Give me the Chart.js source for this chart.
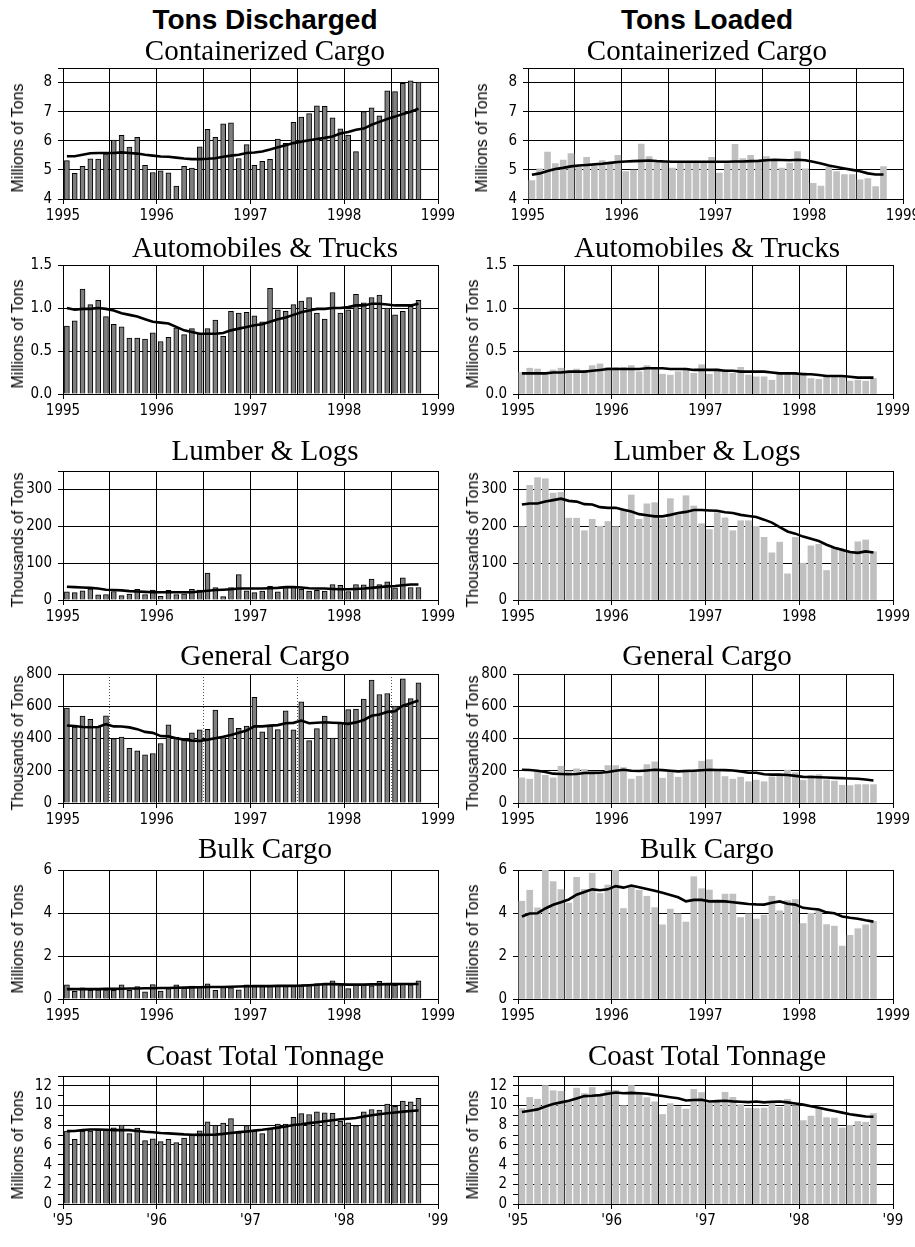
<!DOCTYPE html>
<html><head><meta charset="utf-8">
<script src="https://cdn.jsdelivr.net/npm/chart.js@4.4.0/dist/chart.umd.min.js"></script>
<style>
html,body{margin:0;padding:0;background:#fff;overflow:hidden;width:915px;height:1247px;}
#page{position:relative;width:915px;height:1247px;overflow:hidden;background:#fff;}
canvas{position:absolute;}
.t{position:absolute;transform:translate(-50%,-50%);white-space:nowrap;line-height:1;color:#000;}
.main{font:bold 28px "Liberation Sans",Arial,sans-serif;}
.sub{font:29px "Liberation Serif","Times New Roman",serif;}
.yl{position:absolute;transform:translate(-50%,-50%) rotate(-90deg);white-space:nowrap;line-height:1;color:#000;font:16px "Liberation Sans",Arial,sans-serif;}
</style></head><body><div id="page"></div>
<script>
// ---- categories: months Jan 1995 .. Oct 1998 ----
const months = ['1995-01','1995-02','1995-03','1995-04','1995-05','1995-06','1995-07','1995-08','1995-09','1995-10','1995-11','1995-12',
'1996-01','1996-02','1996-03','1996-04','1996-05','1996-06','1996-07','1996-08','1996-09','1996-10','1996-11','1996-12',
'1997-01','1997-02','1997-03','1997-04','1997-05','1997-06','1997-07','1997-08','1997-09','1997-10','1997-11','1997-12',
'1998-01','1998-02','1998-03','1998-04','1998-05','1998-06','1998-07','1998-08','1998-09','1998-10'];
const yearTicks = ['1995','1996','1997','1998','1999'];
const shortYearTicks = ["'95","'96","'97","'98","'99"];

// ---- series ----
const dischContainer = [5.32,4.88,5.12,5.38,5.37,5.55,6.02,6.19,5.78,6.12,5.16,4.91,4.97,4.90,4.44,5.12,5.06,5.79,6.39,6.12,6.58,6.62,5.39,5.87,5.16,5.29,5.36,6.06,5.91,6.63,6.81,6.93,7.20,7.18,6.79,6.41,6.20,5.63,7.00,7.13,6.86,7.72,7.69,7.97,8.06,8.02];
const dischContainerAvg = [5.47,5.47,5.52,5.57,5.58,5.58,5.58,5.60,5.58,5.56,5.52,5.49,5.46,5.45,5.42,5.39,5.37,5.37,5.38,5.40,5.45,5.49,5.52,5.58,5.60,5.63,5.70,5.78,5.85,5.92,5.97,6.02,6.06,6.10,6.15,6.25,6.30,6.38,6.42,6.55,6.65,6.75,6.83,6.92,7.00,7.10];
const loadContainer = [4.63,5.04,5.61,5.22,5.34,5.56,5.10,5.43,5.12,5.32,5.22,5.50,4.94,4.99,5.89,5.46,5.23,5.23,5.06,5.26,5.26,5.23,5.24,5.43,4.89,5.22,5.88,5.39,5.50,5.28,5.46,5.30,5.06,5.23,5.63,5.04,4.54,4.44,5.10,4.94,4.84,4.84,4.66,4.70,4.43,5.11];
const loadContainerAvg = [4.83,4.88,4.96,5.03,5.07,5.12,5.15,5.17,5.19,5.21,5.24,5.27,5.29,5.30,5.31,5.32,5.30,5.29,5.28,5.28,5.28,5.28,5.28,5.28,5.28,5.28,5.29,5.29,5.30,5.31,5.33,5.35,5.34,5.33,5.35,5.33,5.28,5.22,5.15,5.10,5.05,5.00,4.95,4.88,4.84,4.84];

const dischAuto = [0.79,0.85,1.22,1.04,1.09,0.90,0.81,0.78,0.65,0.65,0.64,0.71,0.61,0.66,0.77,0.69,0.76,0.70,0.76,0.86,0.67,0.96,0.94,0.95,0.91,0.84,1.23,0.98,0.96,1.04,1.08,1.12,0.94,0.87,1.18,0.94,0.98,1.16,1.06,1.12,1.15,1.00,0.92,0.96,1.02,1.09];
const dischAutoAvg = [1.00,0.98,0.99,0.99,1.00,0.99,0.97,0.94,0.92,0.90,0.87,0.84,0.83,0.82,0.78,0.74,0.72,0.70,0.70,0.70,0.71,0.74,0.76,0.78,0.80,0.81,0.84,0.87,0.89,0.92,0.95,0.97,0.99,0.99,1.00,1.00,1.01,1.03,1.03,1.05,1.05,1.04,1.03,1.03,1.03,1.05];
const loadAuto = [0.25,0.30,0.29,0.25,0.28,0.30,0.25,0.29,0.27,0.33,0.35,0.31,0.31,0.31,0.33,0.26,0.33,0.31,0.23,0.22,0.26,0.30,0.24,0.34,0.23,0.29,0.28,0.24,0.31,0.22,0.20,0.20,0.16,0.23,0.24,0.23,0.25,0.18,0.17,0.20,0.20,0.21,0.15,0.16,0.15,0.18];
const loadAutoAvg = [0.24,0.24,0.24,0.24,0.25,0.25,0.26,0.26,0.26,0.27,0.28,0.29,0.29,0.29,0.29,0.29,0.30,0.30,0.30,0.29,0.29,0.29,0.28,0.28,0.28,0.28,0.27,0.27,0.26,0.26,0.26,0.26,0.25,0.24,0.24,0.24,0.23,0.23,0.22,0.21,0.21,0.21,0.20,0.19,0.19,0.19];

const dischLumber = [22,20,25,30,14,15,23,12,16,29,15,27,10,26,15,17,29,27,73,34,9,34,69,25,20,24,37,22,35,37,29,24,26,24,42,40,23,42,41,57,42,49,33,60,34,34];
const dischLumberAvg = [36,35,34,33,31,28,27,26,24,23,22,21,21,21,21,21,21,23,25,27,28,29,31,31,31,31,32,33,35,35,34,32,31,31,30,29,29,30,31,33,35,37,38,40,42,42];
const loadLumber = [199,311,332,329,290,292,222,222,188,219,200,213,199,245,285,219,261,264,220,275,232,283,255,207,191,237,223,188,215,215,200,170,128,157,71,170,100,147,151,80,141,133,128,158,163,131];
const loadLumberAvg = [259,262,262,267,271,275,269,267,260,259,252,250,250,245,240,233,230,227,227,231,236,239,244,244,243,242,238,236,231,228,225,218,210,198,186,180,172,166,160,150,142,136,130,128,132,129];

const dischGeneral = [589,471,539,519,475,541,399,409,339,323,299,307,369,485,407,391,435,453,457,577,405,525,463,477,655,441,479,455,571,453,627,387,461,539,403,499,579,583,645,762,673,679,601,770,647,745];
const dischGeneralAvg = [481,478,471,470,471,489,475,474,469,458,441,435,415,413,401,393,387,385,393,402,411,422,435,450,475,475,480,483,495,497,511,495,498,501,498,496,491,500,515,541,549,565,569,603,619,635];
const loadGeneral = [156,148,194,172,156,228,198,212,208,188,192,232,232,220,148,166,238,255,154,196,160,206,196,259,269,200,164,148,160,132,142,132,162,168,204,188,140,172,176,144,136,110,108,114,114,114];
const loadGeneralAvg = [206,205,200,192,182,180,178,180,186,187,188,192,200,206,200,198,202,206,204,200,196,198,200,203,206,205,204,202,196,188,188,178,176,176,174,168,162,161,160,158,156,154,152,150,146,140];

const dischBulk = [0.66,0.36,0.52,0.40,0.43,0.43,0.40,0.66,0.40,0.58,0.33,0.67,0.37,0.48,0.66,0.51,0.60,0.55,0.70,0.40,0.55,0.52,0.43,0.66,0.64,0.61,0.61,0.60,0.60,0.61,0.66,0.63,0.72,0.69,0.84,0.63,0.48,0.67,0.66,0.61,0.82,0.67,0.64,0.73,0.66,0.84];
const dischBulkAvg = [0.46,0.46,0.46,0.46,0.46,0.47,0.47,0.48,0.49,0.49,0.50,0.50,0.51,0.51,0.52,0.53,0.54,0.55,0.56,0.56,0.56,0.57,0.58,0.59,0.60,0.60,0.60,0.61,0.61,0.61,0.62,0.64,0.66,0.69,0.69,0.68,0.67,0.67,0.67,0.68,0.68,0.69,0.69,0.70,0.70,0.70];
const loadBulk = [4.55,5.06,4.24,6.00,5.46,5.09,4.46,5.66,5.10,5.85,4.91,5.30,6.00,4.21,5.21,5.06,4.78,4.25,3.45,4.18,3.96,3.58,5.69,5.13,5.07,4.58,4.88,4.88,3.79,3.96,3.72,3.90,4.78,4.10,4.58,4.63,3.51,3.99,4.10,3.46,3.39,2.46,2.96,3.27,3.45,3.61];
const loadBulkAvg = [3.84,3.98,3.99,4.21,4.38,4.50,4.63,4.85,4.98,5.10,5.06,5.10,5.25,5.18,5.28,5.20,5.12,5.03,4.94,4.84,4.73,4.54,4.61,4.61,4.54,4.55,4.54,4.50,4.46,4.42,4.40,4.39,4.48,4.54,4.43,4.39,4.24,4.20,4.16,4.03,3.99,3.84,3.78,3.73,3.66,3.60];

const dischCoast = [7.40,6.57,7.40,7.40,7.50,7.50,7.73,8.02,7.15,7.70,6.44,6.63,6.34,6.57,6.24,6.70,7.02,7.44,8.34,7.99,8.21,8.67,7.24,7.96,7.50,7.15,7.70,8.12,8.12,8.80,9.18,9.09,9.35,9.25,9.22,8.40,8.25,7.96,9.35,9.60,9.54,10.15,9.93,10.45,10.38,10.74];
const dischCoastAvg = [7.40,7.42,7.50,7.57,7.56,7.54,7.50,7.52,7.50,7.42,7.34,7.28,7.21,7.17,7.12,7.07,7.04,7.02,7.03,7.05,7.12,7.21,7.30,7.37,7.45,7.54,7.65,7.76,7.88,8.02,8.10,8.21,8.30,8.41,8.50,8.60,8.66,8.73,8.88,9.02,9.12,9.22,9.30,9.38,9.45,9.51];
const loadCoast = [9.70,10.83,10.64,12.03,11.51,11.45,10.41,11.77,11.22,11.84,11.06,11.55,11.55,9.99,12.03,11.32,10.80,10.38,9.09,10.19,9.90,9.64,11.64,11.32,10.22,10.48,11.35,10.83,10.09,9.74,9.70,9.74,10.35,9.83,10.64,9.99,8.47,8.93,9.74,8.77,8.73,7.73,7.99,8.38,8.31,9.18];
const loadCoastAvg = [9.35,9.48,9.61,9.90,10.15,10.32,10.48,10.72,10.96,11.00,11.06,11.20,11.32,11.25,11.29,11.25,11.19,11.08,10.96,10.85,10.74,10.51,10.56,10.58,10.41,10.45,10.48,10.42,10.38,10.35,10.41,10.32,10.38,10.41,10.32,10.20,10.09,9.93,9.77,9.60,9.44,9.28,9.12,9.00,8.89,8.86];

// ---- layout (positions / styles) ----
const page = document.getElementById('page');
const TICK_FONT = {family:"'Liberation Sans Narrow','DejaVu Sans Condensed','Arial Narrow',sans-serif", size:15};
Chart.defaults.color = '#000';

const rows = [
  {title:'Containerized Cargo', unit:'Millions of Tons', top:63, bottom:199, min:4, max:8.5, step:1, labelStep:1, dec:0, ty:50,
   L:dischContainer, La:dischContainerAvg, R:loadContainer, Ra:loadContainerAvg, rShift:10, xl:yearTicks},
  {title:'Automobiles & Trucks', unit:'Millions of Tons', top:260, bottom:394, min:0, max:1.5, step:0.5, labelStep:0.5, dec:1, ty:247,
   L:dischAuto, La:dischAutoAvg, R:loadAuto, Ra:loadAutoAvg, rShift:0, xl:yearTicks},
  {title:'Lumber & Logs', unit:'Thousands of Tons', top:466, bottom:600, min:0, max:350, step:100, labelStep:100, dec:0, ty:450,
   L:dischLumber, La:dischLumberAvg, R:loadLumber, Ra:loadLumberAvg, rShift:0, xl:yearTicks},
  {title:'General Cargo', unit:'Thousands of Tons', top:669, bottom:803, min:0, max:800, step:200, labelStep:200, dec:0, ty:655,
   L:dischGeneral, La:dischGeneralAvg, R:loadGeneral, Ra:loadGeneralAvg, rShift:0, xl:yearTicks, dottedLeft:true},
  {title:'Bulk Cargo', unit:'Millions of Tons', top:865, bottom:999, min:0, max:6, step:2, labelStep:2, dec:0, ty:848,
   L:dischBulk, La:dischBulkAvg, R:loadBulk, Ra:loadBulkAvg, rShift:0, xl:yearTicks},
  {title:'Coast Total Tonnage', unit:'Millions of Tons', top:1071, bottom:1204, min:0, max:13, step:1, labelStep:2, dec:0, ty:1055,
   L:dischCoast, La:dischCoastAvg, R:loadCoast, Ra:loadCoastAvg, rShift:0, xl:shortYearTicks}
];

function addText(cls, text, x, y){
  const d = document.createElement('div');
  d.className = cls; d.textContent = text;
  d.style.left = x+'px'; d.style.top = y+'px';
  page.appendChild(d);
}

addText('t main','Tons Discharged',265,20);
addText('t main','Tons Loaded',707,20);

function isLabeled(v, r){ const q = v / r.labelStep; return Math.abs(q - Math.round(q)) < 1e-6; }

function panel(r, bars, avg, loaded, plotLeft){
  const plotRight = plotLeft + 375;
  const cx = plotLeft - 55, cy = r.top - 10;
  const cw = plotRight + 24 - cx, ch = r.bottom + 34 - cy;
  const c = document.createElement('canvas');
  c.width = cw; c.height = ch;
  c.style.left = cx+'px'; c.style.top = cy+'px';
  c.style.width = cw+'px'; c.style.height = ch+'px';
  page.appendChild(c);
  const barPts = bars.map((v,i)=>({x: months.indexOf(months[i]) + 0.5, y: v}));
  const avgPts = avg.map((v,i)=>({x: i + 0.5, y: v}));
  const dotted = !loaded && r.dottedLeft;
  new Chart(c, {
    type:'bar',
    data:{datasets:[
      {type:'line', data:avgPts, borderColor:'#000', borderWidth:2.6, pointRadius:0, tension:0, order:0, fill:false},
      {type:'bar', data:barPts, backgroundColor: loaded ? '#c0c0c0' : '#7f7f7f',
       borderColor: loaded ? 'rgba(0,0,0,0)' : '#000', borderWidth: loaded ? 0 : 1,
       barThickness: loaded ? 6 : 5, order:1}
    ]},
    options:{
      responsive:false, animation:false, devicePixelRatio:1,
      layout:{padding:{left:10, top:10, right:24, bottom:4}},
      plugins:{legend:{display:false}, tooltip:{enabled:false}, title:{display:false}},
      scales:{
        x:{type:'linear', min:0, max:48, offset:false,
          grid:{offset:false, lineWidth:1, tickLength:5,
            color: ctx => (dotted && ctx.tick && ctx.tick.value % 12 === 6) ? '#555' : '#000',
            tickColor: ctx => (ctx.tick && ctx.tick.value % 12 === 0) ? '#000' : 'rgba(0,0,0,0)'},
          border:{display:true, color:'#000', width:1,
            dash: ctx => (dotted && ctx.tick && ctx.tick.value % 12 === 6) ? [1,2] : []},
          ticks:{stepSize:6, autoSkip:false, maxRotation:0, minRotation:0, padding:3, font:TICK_FONT, color:'#000',
            callback: v => (v % 12 === 0) ? r.xl[v/12] : ''},
          afterFit: s => { s.height = 30; }
        },
        y:{type:'linear', min:r.min, max:r.max,
          afterBuildTicks: s => {
            const t = [];
            for (let k = 0; r.min + k*r.step <= r.max + 1e-9; k++) t.push({value: +(r.min + k*r.step).toFixed(6)});
            if (Math.abs(t[t.length-1].value - r.max) > 1e-9) t.push({value: r.max});
            s.ticks = t;
          },
          grid:{lineWidth:1, tickLength:5,
            color: ctx => (ctx.tick && (isLabeled(ctx.tick.value, r) || ctx.tick.value === r.max)) ? '#000' : 'rgba(0,0,0,0)',
            tickColor:'#000'},
          border:{display:true, color:'#000', width:1},
          ticks:{autoSkip:false, padding:6, font:TICK_FONT, color:'#000',
            callback: v => isLabeled(v, r) ? Number(v).toFixed(r.dec) : ''},
          afterFit: s => { s.width = 45; }
        }
      }
    }
  });
}

rows.forEach(r => {
  const midY = (r.top + r.bottom)/2 + 7;
  panel(r, r.L, r.La, false, 63);
  panel(r, r.R, r.Ra, true, 518 + r.rShift);
  addText('t sub', r.title, 265, r.ty);
  addText('t sub', r.title, 707, r.ty);
  addText('yl', r.unit, 18, midY);
  addText('yl', r.unit, 473 + (r.rShift ? 9 : 0), midY);
});
</script>
</body></html>
